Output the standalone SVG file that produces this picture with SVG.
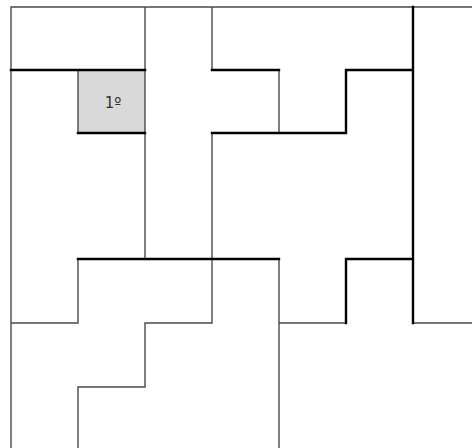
<svg xmlns="http://www.w3.org/2000/svg" width="472" height="448" viewBox="0 0 472 448">
<style>
.thin{stroke:#4a4a4a;stroke-width:1.4;fill:none;stroke-linecap:square}
.thick{stroke:#000;stroke-width:2.4;fill:none;stroke-linecap:square}
.lbl{font-family:"DejaVu Sans","Liberation Sans",sans-serif;font-size:15px;fill:#333}
</style>
<rect width="472" height="448" fill="#fff"/>
<g id="cell-1">
<rect x="78" y="70" width="67" height="63" fill="#d9d9d9"/>
<text class="lbl" x="113" y="108" text-anchor="middle">1º</text>
</g>
<g id="thin-lines">
<path class="thin" d="M11 7H472 M11 7V448 M145 7V259 M212 7V70 M212 133V323 M279 70V133 M78 70V133 M78 259V323 M11 323H78 M145 323H212 M145 323V387 M78 387H145 M78 387V448 M279 259V448 M279 323H346 M413 323H472"/>
</g>
<g id="thick-lines">
<path class="thick" d="M11 70H145 M78 133H145 M212 70H279 M212 133H346 M346 70V133 M346 70H413 M413 7V323 M78 259H279 M346 259V323 M346 259H413"/>
</g>
</svg>
